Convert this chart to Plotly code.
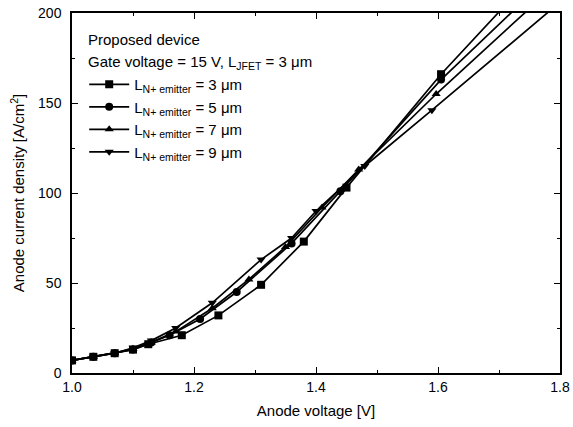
import plotly.graph_objects as go

# Anode voltage [V] and anode current density [A/cm^2] per N+ emitter length
v_3um = [1.0, 1.035, 1.07, 1.10, 1.125, 1.18, 1.24, 1.31, 1.38, 1.45, 1.605, 1.8]
j_3um = [7, 9, 11, 13, 16, 21, 32, 49, 73, 103, 166, 237]

v_5um = [1.0, 1.035, 1.07, 1.10, 1.13, 1.16, 1.21, 1.27, 1.36, 1.44, 1.605, 1.8]
j_5um = [7, 9, 11, 13, 17, 21, 30, 45, 72, 101, 163, 226]

v_7um = [1.0, 1.035, 1.07, 1.10, 1.13, 1.17, 1.23, 1.29, 1.35, 1.41, 1.47, 1.597, 1.8]
j_7um = [7, 9, 11, 13.5, 17, 23, 36, 52, 70, 92, 113, 155, 218]

v_9um = [1.0, 1.035, 1.07, 1.10, 1.13, 1.17, 1.23, 1.31, 1.36, 1.40, 1.48, 1.59, 1.8]
j_9um = [7, 9, 11, 14, 18, 25, 39, 63, 75, 90, 115, 146, 206]

series = [
    ("3", v_3um, j_3um, "square"),
    ("5", v_5um, j_5um, "circle"),
    ("7", v_7um, j_7um, "triangle-up"),
    ("9", v_9um, j_9um, "triangle-down"),
]

x_ticks = [1.0, 1.2, 1.4, 1.6, 1.8]
y_ticks = [0, 50, 100, 150, 200]

fig = go.Figure()
for lab, v, j, sym in series:
    fig.add_trace(go.Scatter(
        x=v, y=j, mode="lines+markers",
        name=f"L<sub>N+ emitter</sub> = {lab} \u03bcm",
        line=dict(color="black", width=1.7),
        marker=dict(symbol=sym, size=8, color="black"),
        cliponaxis=True,
    ))

FONT = "Liberation Sans, Arial, sans-serif"

fig.update_layout(
    width=573, height=427,
    margin=dict(l=72, r=13, t=13, b=54),
    paper_bgcolor="white", plot_bgcolor="white",
    font=dict(family=FONT, color="black", size=14),
    showlegend=True,
    legend=dict(
        x=0.025, y=0.847, xanchor="left", yanchor="top",
        bgcolor="rgba(0,0,0,0)", font=dict(size=15, family=FONT),
        tracegroupgap=0, itemwidth=40,
    ),
    xaxis=dict(
        range=[1.0, 1.8], tickvals=x_ticks,
        ticktext=[f"{t:.1f}" for t in x_ticks],
        showgrid=False, zeroline=False, automargin=False,
        showline=True, linecolor="black", linewidth=1.5, mirror="ticks",
        ticks="inside", ticklen=6, tickcolor="black", tickwidth=1.2,
        minor=dict(dtick=0.1, ticks="inside", ticklen=3, tickcolor="black"),
        tickfont=dict(size=14),
        title=dict(text="Anode voltage [V]", font=dict(size=15), standoff=12),
    ),
    yaxis=dict(
        range=[0, 200], tickvals=y_ticks,
        showgrid=False, zeroline=False, automargin=False,
        showline=True, linecolor="black", linewidth=1.5, mirror="ticks",
        ticks="inside", ticklen=6, tickcolor="black", tickwidth=1.2,
        minor=dict(dtick=25, ticks="inside", ticklen=3, tickcolor="black"),
        tickfont=dict(size=14), ticklabelstandoff=6,
        title=dict(text="Anode current density [A/cm<sup>2</sup>]", font=dict(size=15), standoff=10),
    ),
    annotations=[
        dict(text="Proposed device", x=0.028, y=0.925, xref="paper", yref="paper",
             xanchor="left", yanchor="middle", showarrow=False, font=dict(size=15)),
        dict(text="Gate voltage = 15 V, L<sub>JFET</sub> = 3 \u03bcm", x=0.028, y=0.862,
             xref="paper", yref="paper", xanchor="left", yanchor="middle",
             showarrow=False, font=dict(size=15)),
    ],
)

# remove the default 8px page margin so the figure sits at the window's corner
fig.write_html("out.html", config={"displayModeBar": False},
               post_script="document.body.style.margin='0';")
